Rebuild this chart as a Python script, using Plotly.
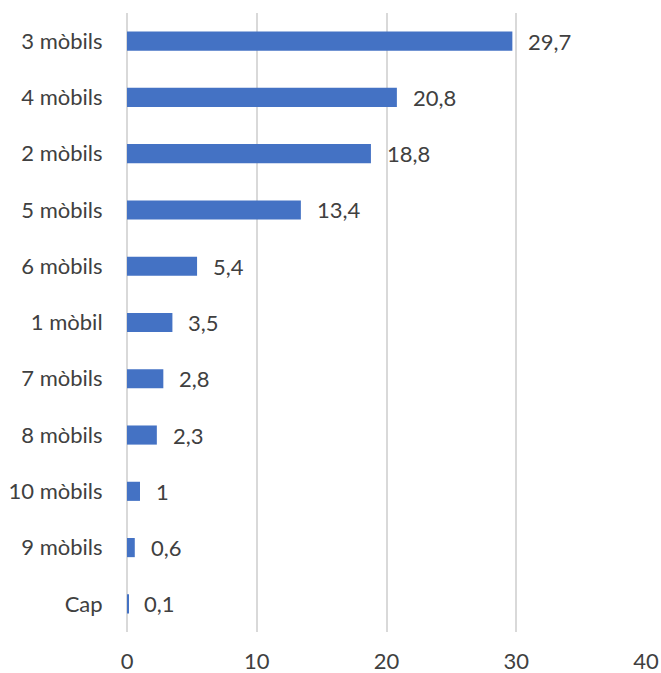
import plotly.graph_objects as go

categories = ["3 mòbils", "4 mòbils", "2 mòbils", "5 mòbils", "6 mòbils", "1 mòbil",
              "7 mòbils", "8 mòbils", "10 mòbils", "9 mòbils", "Cap"]
values = [29.7, 20.8, 18.8, 13.4, 5.4, 3.5, 2.8, 2.3, 1.0, 0.6, 0.1]
labels = ["29,7", "20,8", "18,8", "13,4", "5,4", "3,5", "2,8", "2,3", "1", "0,6", "0,1"]
x_ticks = [0, 10, 20, 30, 40]

FONT = "Lato"
SIZE = 22
TXT = "#404040"

fig = go.Figure()
fig.add_trace(go.Bar(
    x=values, y=categories, orientation="h",
    marker=dict(color="#4472C4", line=dict(width=0)),
    hoverinfo="x+y",
))

for c, v, t in zip(categories, values, labels):
    fig.add_annotation(x=v, y=c, text=t, showarrow=False, xanchor="left",
                       xshift=14, font=dict(family=FONT, size=SIZE, color=TXT))

fig.update_layout(
    width=661, height=673,
    margin=dict(l=127, r=15, t=13, b=41),
    paper_bgcolor="white", plot_bgcolor="white",
    bargap=0.66,
    showlegend=False,
    font=dict(family=FONT, size=SIZE, color=TXT),
)
fig.update_xaxes(range=[0, 40], tickvals=x_ticks, showgrid=True, gridcolor="#D9D9D9",
                 gridwidth=1.5, zeroline=True, zerolinecolor="#D9D9D9", zerolinewidth=1.5,
                 ticks="outside", ticklen=10, tickcolor="rgba(0,0,0,0)", automargin=False,
                 tickfont=dict(family=FONT, size=SIZE, color=TXT), fixedrange=True)
fig.update_yaxes(categoryorder="array", categoryarray=categories, autorange="reversed",
                 showgrid=False, ticks="outside", ticklen=19, tickcolor="rgba(0,0,0,0)",
                 automargin=False,
                 tickfont=dict(family=FONT, size=SIZE, color=TXT), fixedrange=True)

fig.write_html(
    "out.html",
    config={"displayModeBar": False},
    post_script="document.body.style.margin='0';document.body.style.overflow='hidden';",
)
